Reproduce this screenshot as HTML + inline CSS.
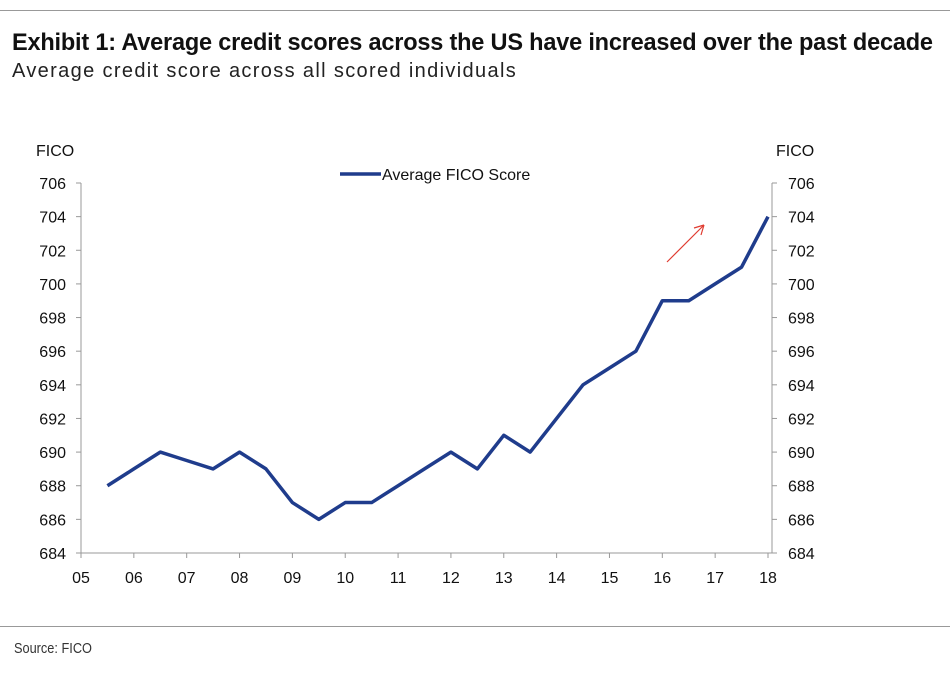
<!DOCTYPE html>
<html><head><meta charset="utf-8">
<style>
body{margin:0;background:#fff;width:950px;height:678px;overflow:hidden;font-family:"Liberation Sans",sans-serif;}
.t{position:absolute;left:12px;top:29px;font-size:24px;font-weight:bold;color:#111;letter-spacing:-0.2px;transform:scaleX(0.98);transform-origin:left;white-space:nowrap}
.s{position:absolute;left:12px;top:60px;font-size:20px;color:#222;letter-spacing:1.35px;white-space:nowrap}
.src{position:absolute;left:14px;top:640px;font-size:15px;color:#333;transform:scaleX(0.85);transform-origin:left}
.rule{position:absolute;left:0;width:950px;height:1px;background:#999}
</style></head><body>
<div class="rule" style="top:10px"></div>
<div class="t">Exhibit 1: Average credit scores across the US have increased over the past decade</div>
<div class="s">Average credit score across all scored individuals</div>
<svg id="c" width="950" height="678" style="position:absolute;left:0;top:0"></svg>
<div class="rule" style="top:626px"></div>
<div class="src">Source: FICO</div>
<script>
const xLabels=["05","06","07","08","09","10","11","12","13","14","15","16","17","18"];
const yTicks=[684,686,688,690,692,694,696,698,700,702,704,706];
const dates=[5.5,6,6.5,7,7.5,8,8.5,9,9.5,10,10.5,11,11.5,12,12.5,13,13.5,14,14.5,15,15.5,16,16.5,17,17.5,18];
const scores=[688,689,690,689.5,689,690,689,687,686,687,687,688,689,690,689,691,690,692,694,695,696,699,699,700,701,704];
const NS="http://www.w3.org/2000/svg";
const svg=document.getElementById('c');
const x0=81,x1=768,y0=553,y1=183,xa=5,xb=18,ya=684,yb=706,rx=772;
const X=v=>x0+(v-xa)/(xb-xa)*(x1-x0);
const Y=v=>y0-(v-ya)/(yb-ya)*(y0-y1);
function el(t,a,txt){const e=document.createElementNS(NS,t);for(const k in a)e.setAttribute(k,a[k]);if(txt!=null)e.textContent=txt;svg.appendChild(e);return e;}
let e;
e=el('line',{x1:x0,y1:y1,x2:x0,y2:y0,stroke:'#999'});
e=el('line',{x1:rx,y1:y1,x2:rx,y2:y0,stroke:'#999'});
e=el('line',{x1:x0,y1:y0,x2:rx,y2:y0,stroke:'#999'});
yTicks.forEach(v=>{
 el('line',{x1:x0-5,y1:Y(v),x2:x0,y2:Y(v),stroke:'#999'});
 el('line',{x1:rx,y1:Y(v),x2:rx+5,y2:Y(v),stroke:'#999'});
 e=el('text',{x:66,y:Y(v)+6,'font-size':16,'text-anchor':'end',fill:'#111'},v);
 
 e=el('text',{x:788,y:Y(v)+6,'font-size':16,fill:'#111'},v);
 
});
xLabels.forEach((l,i)=>{
 const xx=X(xa+i);
 el('line',{x1:xx,y1:y0,x2:xx,y2:y0+5,stroke:'#999'});
 e=el('text',{x:xx,y:y0+30,'font-size':16,'text-anchor':'middle',fill:'#111'},l);
 
});
e=el('text',{x:36,y:156,'font-size':16,fill:'#111'},'FICO');
e=el('text',{x:776,y:156,'font-size':16,fill:'#111'},'FICO');
e=el('line',{x1:340,y1:174,x2:381,y2:174,stroke:'#1f3c8c','stroke-width':3.5});
e=el('text',{x:382,y:180,'font-size':16,fill:'#111'},'Average FICO Score');
e=el('polyline',{points:dates.map((d,i)=>X(d)+','+Y(scores[i])).join(' '),fill:'none',stroke:'#1f3c8c','stroke-width':3.5,'stroke-linejoin':'round'});

e=el('path',{d:'M667 262 L704 225 M704 225 L694 228 M704 225 L701 235',stroke:'#e03c31','stroke-width':1.2,fill:'none'});

</script>
</body></html>
